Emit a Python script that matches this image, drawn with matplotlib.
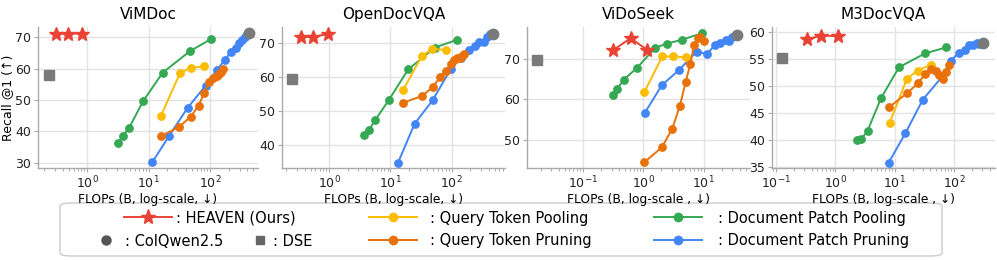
import matplotlib
matplotlib.use('Agg')
import matplotlib.pyplot as plt
from matplotlib.lines import Line2D
from matplotlib.patches import FancyBboxPatch
from matplotlib.ticker import LogLocator, NullFormatter, FixedLocator

plt.rcParams['font.family'] = ['DejaVu Sans']

# ---------------- data ----------------
titles = ['ViMDoc', 'OpenDocVQA', 'ViDoSeek', 'M3DocVQA']

vimdoc_heaven_x = [0.31, 0.49, 0.83]
vimdoc_heaven_y = [71.1, 71.2, 71.2]
vimdoc_colqwen = [425, 71.3]
vimdoc_dse = [0.24, 57.9]
vimdoc_qpool_x = [15.8, 32.1, 47.9, 79.5]
vimdoc_qpool_y = [45.0, 58.5, 60.3, 60.7]
vimdoc_qprune_x = [15.8, 31.3, 47.9, 64.7, 79, 95.3, 112, 127, 138, 150, 159]
vimdoc_qprune_y = [38.5, 41.4, 44.7, 48.1, 52.2, 55.6, 57.1, 57.6, 58.2, 58.8, 59.8]
vimdoc_dpool_x = [3.19, 3.76, 4.82, 8.14, 16.8, 46.8, 104]
vimdoc_dpool_y = [36.4, 38.4, 41.2, 49.7, 58.7, 65.6, 69.5]
vimdoc_dprune_x = [11.4, 21.5, 42.8, 84, 127, 171, 214, 259, 296, 331, 372, 400]
vimdoc_dprune_y = [30.1, 38.6, 47.5, 54.6, 59.5, 62.7, 65.2, 66.6, 68.3, 69.1, 70.2, 71.0]

open_heaven_x = [0.345, 0.55, 0.96]
open_heaven_y = [71.7, 71.7, 72.6]
open_colqwen = [478, 72.7]
open_dse = [0.25, 59.5]
open_qpool_x = [16.2, 32.4, 48.2, 80.7]
open_qpool_y = [56.2, 66.1, 68.2, 67.9]
open_qprune_x = [16.2, 32.4, 48.9, 64.5, 80.7, 96.3, 110, 123, 137, 148, 159]
open_qprune_y = [52.5, 54.4, 57.0, 59.9, 61.8, 63.9, 64.9, 65.4, 65.6, 66.0, 66.7]
open_dpool_x = [3.73, 4.4, 5.65, 9.55, 19.5, 53.3, 120]
open_dpool_y = [43.1, 44.4, 47.4, 53.4, 62.2, 68.6, 70.8]
open_dprune_x = [13.3, 24.8, 48.9, 97.5, 140, 191, 240, 282, 341, 380, 427]
open_dprune_y = [34.9, 46.3, 53.2, 62.4, 65.6, 67.9, 69.1, 70.1, 70.2, 71.7, 72.5]

vido_heaven_x = [0.318, 0.62, 1.18]
vido_heaven_y = [72.2, 75.1, 72.2]
vido_colqwen = [36.3, 75.8]
vido_dse = [0.0177, 69.7]
vido_qpool_x = [1.04, 2.07, 3.07, 5.05]
vido_qpool_y = [61.7, 70.6, 70.6, 70.4]
vido_qprune_x = [1.04, 2.04, 3.03, 4.06, 5.05, 6.03, 7.0, 7.95, 8.7, 10.2]
vido_qprune_y = [44.4, 48.1, 52.7, 58.4, 64.2, 68.7, 73.5, 75.3, 75.4, 74.4]
vido_dpool_x = [0.318, 0.37, 0.48, 0.78, 1.58, 2.44, 4.33, 9.5]
vido_dpool_y = [61.1, 62.6, 64.9, 67.7, 72.7, 73.8, 74.7, 76.4]
vido_dprune_x = [1.07, 2.04, 3.96, 7.7, 11.5, 15.5, 19.1, 23.3, 26.8, 29.7, 33.2]
vido_dprune_y = [56.7, 63.5, 67.3, 71.8, 71.2, 73.5, 74.0, 74.7, 74.5, 75.4, 75.7]

m3_heaven_x = [0.333, 0.58, 1.11]
m3_heaven_y = [58.7, 59.4, 59.3]
m3_colqwen = [306, 58.1]
m3_dse = [0.126, 55.3]
m3_qpool_x = [8.2, 16.1, 24.6, 40.6]
m3_qpool_y = [43.1, 51.4, 52.9, 54.0]
m3_qprune_x = [8.1, 16.3, 24.6, 32.3, 40.7, 48.8, 56.4, 64.2, 74, 81.9]
m3_qprune_y = [46.1, 48.7, 50.5, 52.2, 53.2, 52.9, 52.1, 51.4, 52.6, 54.0]
m3_dpool_x = [2.32, 2.74, 3.5, 5.87, 11.8, 32.7, 74]
m3_dpool_y = [39.9, 40.1, 41.7, 47.7, 53.5, 56.1, 57.2]
m3_dprune_x = [7.9, 15.1, 29.9, 62.5, 89, 119, 152, 180, 210, 240, 268]
m3_dprune_y = [35.7, 41.2, 47.5, 51.7, 54.7, 56.2, 56.7, 57.6, 57.7, 58.0, 57.8]

yticks_list = [[30, 40, 50, 60, 70], [40, 50, 60, 70], [50, 60, 70], [35, 40, 45, 50, 55, 60]]
xmajor_list = [[1, 10, 100], [1, 10, 100], [0.1, 1, 10], [0.1, 1, 10, 100]]
xlabels = ['FLOPs (B, log-scale, ↓)', 'FLOPs (B, log-scale, ↓)',
           'FLOPs (B, log-scale , ↓)', 'FLOPs (B, log-scale , ↓)']

# ---------------- style ----------------
RED = '#EA4335'
YEL = '#FBBC04'
ORA = '#E8710A'
GRN = '#34A853'
BLU = '#4285F4'
GRAY = '#7a7a7a'

W, H = 997, 260
fig = plt.figure(figsize=(W / 100, H / 100), dpi=100)

ax_px = [(38, 258), (282, 505), (527, 750), (772, 995)]
xlim_exp = [(-0.80, 2.776), (-0.768, 2.87), (-1.924, 1.77), (-1.066, 2.69)]
ylims = [(28.3, 73.3), (33.4, 74.6), (43.0, 77.9), (34.75, 61.0)]
top_px, bot_px = 27, 168

datasets = [
    (vimdoc_heaven_x, vimdoc_heaven_y, vimdoc_colqwen, vimdoc_dse, vimdoc_qpool_x, vimdoc_qpool_y,
     vimdoc_qprune_x, vimdoc_qprune_y, vimdoc_dpool_x, vimdoc_dpool_y, vimdoc_dprune_x, vimdoc_dprune_y),
    (open_heaven_x, open_heaven_y, open_colqwen, open_dse, open_qpool_x, open_qpool_y,
     open_qprune_x, open_qprune_y, open_dpool_x, open_dpool_y, open_dprune_x, open_dprune_y),
    (vido_heaven_x, vido_heaven_y, vido_colqwen, vido_dse, vido_qpool_x, vido_qpool_y,
     vido_qprune_x, vido_qprune_y, vido_dpool_x, vido_dpool_y, vido_dprune_x, vido_dprune_y),
    (m3_heaven_x, m3_heaven_y, m3_colqwen, m3_dse, m3_qpool_x, m3_qpool_y,
     m3_qprune_x, m3_qprune_y, m3_dpool_x, m3_dpool_y, m3_dprune_x, m3_dprune_y),
]

lw = 1.4
ms = 5.3
for i, d in enumerate(datasets):
    (hx, hy, cq, dse, qpx, qpy, qrx, qry, dpx, dpy, drx, dry) = d
    l, r = ax_px[i]
    ax = fig.add_axes([l / W, 1 - bot_px / H, (r - l) / W, (bot_px - top_px) / H])
    ax.set_xscale('log')
    ax.set_xlim(10 ** xlim_exp[i][0], 10 ** xlim_exp[i][1])
    ax.set_ylim(*ylims[i])

    ax.plot(dpx, dpy, '-o', color=GRN, lw=lw, ms=ms, zorder=3)
    ax.plot(drx, dry, '-o', color=BLU, lw=lw, ms=ms, zorder=3)
    ax.plot(qpx, qpy, '-o', color=YEL, lw=lw, ms=ms, zorder=4)
    ax.plot(qrx, qry, '-o', color=ORA, lw=lw, ms=ms, zorder=4)
    ax.plot(hx, hy, '-*', color=RED, lw=lw, ms=10, zorder=5)
    ax.plot([cq[0]], [cq[1]], 'o', color=GRAY, ms=7.5, zorder=6, clip_on=False)
    ax.plot([dse[0]], [dse[1]], 's', color=GRAY, ms=6.5, zorder=6)

    ax.xaxis.set_major_locator(FixedLocator(xmajor_list[i]))
    ax.xaxis.set_minor_locator(LogLocator(base=10, subs=range(2, 10), numticks=20))
    ax.xaxis.set_minor_formatter(NullFormatter())
    ax.set_yticks(yticks_list[i])

    ax.grid(True, which='major', color='#e3e3e3', lw=1.0, zorder=0)
    ax.set_axisbelow(True)
    for s in ['top', 'right']:
        ax.spines[s].set_visible(False)
    for s in ['left', 'bottom']:
        ax.spines[s].set_color('#aaaaaa')
        ax.spines[s].set_linewidth(1.0)
    ax.tick_params(axis='both', which='major', labelsize=9, length=3, width=0.8,
                   color='#aaaaaa', pad=2, labelcolor='#222222')
    ax.tick_params(axis='x', which='minor', length=2.5, width=0.7, color='#aaaaaa')

    ax.set_title(titles[i], fontsize=11, pad=6)
    ax.set_xlabel(xlabels[i], fontsize=8.8, labelpad=1)
    if i == 0:
        ax.set_ylabel('Recall @1 (↑)', fontsize=9, labelpad=1)

# ---------------- legend ----------------
leg_font = {'family': ['DejaVu Sans'], 'size': 10.5}

h_heaven = Line2D([], [], color=RED, marker='*', ms=11, lw=lw)
h_colqwen = Line2D([], [], color='#555555', marker='o', ls='none', ms=6.5)
h_dse = Line2D([], [], color='#666666', marker='s', ls='none', ms=5.5)
h_qpool = Line2D([], [], color=YEL, marker='o', ms=6, lw=lw)
h_qprune = Line2D([], [], color=ORA, marker='o', ms=6, lw=lw)
h_dpool = Line2D([], [], color=GRN, marker='o', ms=6, lw=lw)
h_dprune = Line2D([], [], color=BLU, marker='o', ms=6, lw=lw)

row1, row2 = 218, 241


def put_entry(handle, label, x_px, y_px, hl, pad=0.3):
    lg = fig.legend([handle], [label], loc='center left',
                    bbox_to_anchor=(x_px / W, 1 - y_px / H), frameon=False,
                    borderpad=0, borderaxespad=0, handlelength=hl, handletextpad=pad,
                    prop=leg_font)
    return lg


put_entry(h_heaven, ': HEAVEN (Ours)', 124, row1, 3.3)
put_entry(h_colqwen, ': ColQwen2.5', 100, row2, 0.8, 0.9)
put_entry(h_dse, ': DSE', 254, row2, 0.8, 0.5)
put_entry(h_qpool, ': Query Token Pooling', 369, row1, 3.3, 0.9)
put_entry(h_qprune, ': Query Token Pruning', 369, row2, 3.3, 0.9)
put_entry(h_dpool, ': Document Patch Pooling', 654, row1, 3.3, 1.1)
put_entry(h_dprune, ': Document Patch Pruning', 654, row2, 3.3, 1.1)

box = FancyBboxPatch((60 / W, 1 - 256 / H), (942 - 60) / W, (256 - 203) / H,
                     boxstyle='round,pad=0,rounding_size=0.012', transform=fig.transFigure,
                     facecolor='white', edgecolor='#cccccc', lw=1.0, zorder=-1)
fig.patches.append(box)

fig.savefig('out.png', dpi=100)
